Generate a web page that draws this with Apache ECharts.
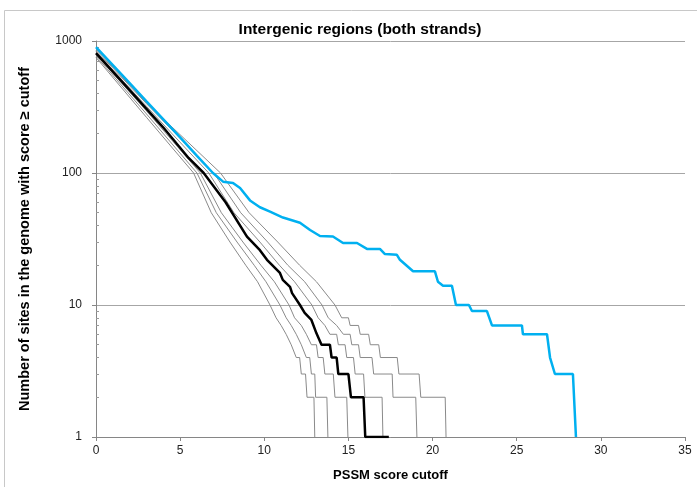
<!DOCTYPE html>
<html>
<head>
<meta charset="utf-8">
<script src="https://cdn.jsdelivr.net/npm/echarts@6/dist/echarts.min.js"></script>
<style>
html,body{margin:0;padding:0;background:#fff;}
#c{width:697px;height:487px;}
</style>
</head>
<body>
<div id="c"></div>
<script>
// ---- data (PSSM score cutoff, number of sites >= cutoff) ----
const titleText = "Intergenic regions (both strands)";
const xTitle = "PSSM score cutoff";
const yTitle = "Number of sites in the genome with score \u2265 cutoff";
const xTicks = [0, 5, 10, 15, 20, 25, 30, 35];
const yTicks = [1, 10, 100, 1000];
const yMinorTicks = [2,3,4,5,6,7,8,9,20,30,40,50,60,70,80,90,200,300,400,500,600,700,800,900];

// real intergenic sites (blue)
const realSites = [
  [0,900],[1,656],[2,479],[3,349],[4,255],[5,186],[6,135],[6.95,100],
  [7.55,86],[8.14,84],[8.56,77],[9.15,62],[9.74,55],[10.34,51],[11.11,46],
  [12.12,42],[12.72,37],[13.31,33.3],[14.08,33],[14.68,29.5],[15.51,29.5],
  [16.1,26.6],[16.87,26.6],[17.17,24.3],[17.88,24],[18.06,22],[18.84,18],
  [20.14,18],[20.32,15],[20.62,14],[21.15,14],[21.39,10],[22.16,10],
  [22.34,9],[23.23,9],[23.53,7],[25.31,7],[25.37,6],[26.8,6],[26.98,4],
  [27.27,3],[28.34,3],[28.52,1]
];

// average of shuffled controls (black)
const meanShuffled = [
  [0,810],[2,424],[4,221],[5.5,130],[6.4,100],[7.7,60],[8.97,33],[9.74,26],
  [10.16,22],[10.93,17.5],[11.1,15.5],[11.53,13.7],[11.65,12.3],[12.12,10],
  [12.4,8.7],[12.8,7.7],[13.1,6.1],[13.4,5],[13.9,5],[14.0,4],[14.3,4],
  [14.4,3],[15.0,3],[15.15,2],[15.9,2],[16.0,1],[17.4,1]
];

// individual shuffled controls (grey)
const shuffled1 = [[0,750],[3,264],[5.8,100],[6.85,50],[7.96,30],[8.9,20],[9.6,15],[10.34,10],[10.7,8],[11.0,7],[11.3,6],[11.6,5],[11.9,4],[12.1,4],[12.2,3],[12.45,3],[12.54,2],[12.95,2],[13.0,1]];
const shuffled2 = [[0,770],[3,280],[6.0,100],[7.15,50],[8.38,30],[9.4,20],[10.1,15],[10.93,10],[11.3,8],[11.6,7],[11.9,6],[12.2,5],[12.5,4],[12.7,4],[12.8,3],[13.0,3],[13.05,2],[13.72,2],[13.78,1]];
const shuffled3 = [[0,790],[3,295],[6.2,100],[7.45,50],[8.73,30],[9.8,20],[10.6,15],[11.47,10],[11.8,8],[12.2,7],[12.5,6],[12.8,5],[13.1,5],[13.2,4],[13.5,4],[13.6,3],[14.1,3],[14.2,2],[14.9,2],[14.97,1]];
const shuffled4 = [[0,830],[3,320],[6.7,100],[8.2,50],[9.74,30],[10.9,20],[11.8,15],[12.83,10],[13.2,8],[13.6,7],[13.9,6],[14.3,6],[14.4,5],[14.8,5],[14.9,4],[15.3,4],[15.4,3],[15.9,3],[15.98,2],[17.0,2],[17.05,1]];
const shuffled5 = [[0,850],[3,335],[7.0,100],[8.6,50],[10.2,30],[11.4,20],[12.4,15],[13.43,10],[13.8,8],[14.3,7],[14.7,6],[15.1,6],[15.2,5],[15.6,5],[15.7,4],[16.4,4],[16.5,3],[17.6,3],[17.65,2],[19.0,2],[19.07,1]];
const shuffled6 = [[0,870],[3,340],[7.4,100],[9.1,50],[10.8,30],[12.1,20],[13.1,15],[14.2,10],[14.6,8],[15.0,8],[15.1,7],[15.6,7],[15.7,6],[16.2,6],[16.3,5],[16.8,5],[16.9,4],[17.9,4],[18.0,3],[19.2,3],[19.3,2],[20.75,2],[20.8,1]];
const shuffledSets = [shuffled1, shuffled2, shuffled3, shuffled4, shuffled5, shuffled6];

const FONT = "'Liberation Sans', Arial, sans-serif";
const chart = echarts.init(document.getElementById('c'), null, {renderer: 'canvas'});

const series = [];
shuffledSets.forEach(function (d, i) {
  series.push({
    name: 'shuffle ' + (i + 1), type: 'line', data: d, showSymbol: false, symbol: 'none',
    xAxisIndex: 0, yAxisIndex: 0,
    lineStyle: {color: '#8a8a8a', width: 1}, z: 2, animation: false
  });
});
series.push({
  name: 'mean', type: 'line', data: meanShuffled, symbol: 'none',
  lineStyle: {color: '#000000', width: 2.5}, z: 3, animation: false
});
series.push({
  name: 'intergenic', type: 'line', data: realSites, symbol: 'none',
  lineStyle: {color: '#00B0F0', width: 2.5}, z: 4, animation: false
});

chart.setOption({
  animation: false,
  backgroundColor: '#ffffff',
  graphic: [{
    type: 'rect', silent: true, z: -10,
    shape: {x: 4.5, y: 10.5, width: 900, height: 700},
    style: {fill: 'none', stroke: '#c8c8c8', lineWidth: 1}
  }],
  title: {
    text: titleText, left: 355, textAlign: 'center', top: 17,
    textStyle: {fontFamily: FONT, fontSize: 15.5, fontWeight: 'bold', color: '#000'}
  },
  grid: {left: 96, right: 12, top: 41, bottom: 50, containLabel: false},
  xAxis: {
    type: 'value', min: 0, max: 35, interval: 5,
    name: xTitle, nameLocation: 'middle', nameGap: 32,
    nameTextStyle: {fontFamily: FONT, fontSize: 13, fontWeight: 'bold', color: '#000'},
    axisLine: {show: true, onZero: false, lineStyle: {color: '#868686', width: 1}},
    axisTick: {show: true, inside: false, length: 4, lineStyle: {color: '#868686'}},
    axisLabel: {fontFamily: FONT, fontSize: 12, color: '#222', margin: 8,
      customValues: xTicks},
    splitLine: {show: false}
  },
  yAxis: [{
    type: 'log', logBase: 10, min: 1, max: 1000,
    name: yTitle, nameLocation: 'middle', nameGap: 64, nameRotate: 90,
    nameTextStyle: {fontFamily: FONT, fontSize: 14.5, fontWeight: 'bold', color: '#000'},
    axisLine: {show: true, lineStyle: {color: '#868686', width: 1}},
    axisTick: {show: true, length: 4, lineStyle: {color: '#868686'}},
    axisLabel: {fontFamily: FONT, fontSize: 12, color: '#222', margin: 14,
      customValues: yTicks, formatter: function (v) { return String(Math.round(v)); }},
    splitLine: {show: true, lineStyle: {color: '#a6a6a6', width: 1}}
  }, {
    type: 'log', logBase: 10, min: 1, max: 1000, position: 'left',
    axisLine: {show: false},
    axisTick: {show: true, inside: true, length: 3, customValues: yMinorTicks,
      lineStyle: {color: '#9a9a9a'}},
    axisLabel: {show: false},
    splitLine: {show: false}
  }],
  series: series
});
</script>
</body>
</html>
